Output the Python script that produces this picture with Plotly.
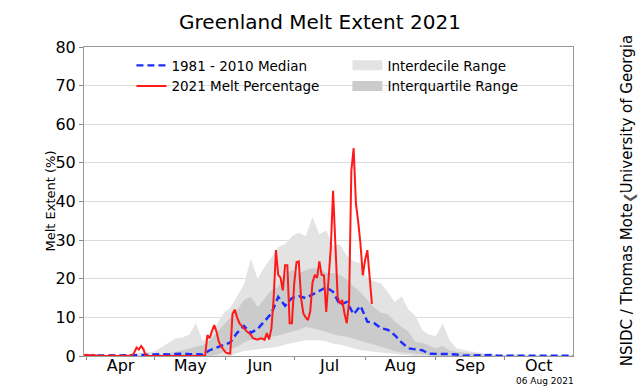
import pandas as pd
import plotly.graph_objects as go

# ---------------- data ----------------
# 1981-2010 climatology, sampled every 3 days starting 1 April
clim_start = "2021-04-01"
median_1981_2010 = [
    0.1, 0.1, 0.1, 0.1, 0.1, 0.2, 0.2, 0.2, 0.3, 0.3,
    0.4, 0.5, 0.4, 0.5, 0.6, 0.5, 0.5, 0.4, 1.5, 2.2,
    2.8, 3.5, 6.0, 7.8, 6.0, 7.0, 9.0, 11.0, 15.3, 13.0,
    15.0, 15.5, 15.0, 16.0, 16.8, 17.8, 16.6, 13.2, 14.0, 10.8,
    13.0, 8.9, 8.5, 7.2, 6.8, 5.4, 3.5, 2.0, 1.7, 1.5,
    0.6, 0.5, 0.5, 0.5, 0.4, 0.1, 0.1, 0.1, 0.2, 0.3,
    0.1, 0.1, 0.1, 0.1, 0.1, 0.1, 0.1, 0.1, 0.1, 0.1, 0.1, 0.1,
]
p90 = [
    0.0, 0.0, 0.0, 0.1, 0.2, 0.2, 0.3, 0.5, 0.8, 1.0,
    1.2, 2.3, 3.4, 4.5, 4.8, 5.5, 8.5, 3.8, 5.5, 8.0,
    11.0, 12.5, 15.5, 18.5, 25.2, 20.0, 23.0, 25.5, 28.2, 29.0,
    31.0, 32.0, 31.0, 36.0, 31.5, 32.5, 28.5, 29.0, 26.0, 24.5,
    24.0, 20.0, 19.5, 18.8, 16.5, 14.0, 15.5, 12.0, 10.4, 6.7,
    5.5, 5.2, 8.5, 4.0, 2.0, 1.5, 1.2, 1.0, 0.8, 0.6,
    0.3, 0.3, 0.5, 0.3, 0.2, 0.2, 0.2, 0.2, 0.2, 0.1, 0.1, 0.1,
]
p75 = [
    0.0, 0.0, 0.0, 0.0, 0.0, 0.0, 0.1, 0.1, 0.1, 0.1,
    0.2, 0.4, 0.8, 1.0, 1.5, 2.0, 2.4, 2.8, 4.0, 6.0,
    8.0, 10.1, 11.9, 14.5, 15.3, 12.7, 15.0, 17.0, 18.0, 21.0,
    22.2, 21.4, 22.2, 22.8, 22.5, 21.5, 21.5, 21.0, 19.8, 18.0,
    16.5, 14.5, 12.5, 11.2, 10.8, 9.0, 7.5, 6.3, 3.7, 3.4,
    2.8, 2.0, 2.6, 1.4, 1.1, 0.9, 0.8, 0.5, 0.3, 0.2,
    0.1, 0.1, 0.1, 0.1, 0.1, 0.1, 0.1, 0.1, 0.1, 0.1, 0.1, 0.1,
]
p25 = [
    0.0, 0.0, 0.0, 0.0, 0.0, 0.0, 0.0, 0.0, 0.0, 0.0,
    0.0, 0.0, 0.0, 0.0, 0.0, 0.0, 0.0, 0.0, 0.0, 0.3,
    1.1, 1.7, 2.4, 3.5, 4.2, 4.4, 4.7, 5.0, 5.3, 5.8,
    6.3, 6.8, 7.5, 7.2, 6.7, 6.2, 5.8, 5.2, 5.0, 4.5,
    4.0, 3.5, 3.0, 2.4, 1.8, 1.2, 1.0, 0.8, 0.5, 0.3,
    0.2, 0.0, 0.0, 0.0, 0.0, 0.0, 0.0, 0.0, 0.0, 0.0,
    0.0, 0.0, 0.0, 0.0, 0.0, 0.0, 0.0, 0.0, 0.0, 0.0, 0.0, 0.0,
]
p10 = [
    0.0, 0.0, 0.0, 0.0, 0.0, 0.0, 0.0, 0.0, 0.0, 0.0,
    0.0, 0.0, 0.0, 0.0, 0.0, 0.0, 0.0, 0.0, 0.0, 0.0,
    0.0, 0.0, 0.8, 1.3, 1.5, 1.7, 2.0, 2.2, 2.4, 3.0,
    3.4, 3.8, 4.1, 4.1, 4.1, 3.8, 3.2, 3.0, 2.4, 2.0,
    1.5, 1.3, 1.1, 0.9, 0.6, 0.4, 0.3, 0.2, 0.0, 0.0,
    0.0, 0.0, 0.0, 0.0, 0.0, 0.0, 0.0, 0.0, 0.0, 0.0,
    0.0, 0.0, 0.0, 0.0, 0.0, 0.0, 0.0, 0.0, 0.0, 0.0, 0.0, 0.0,
]

# 2021 daily melt percentage starting 31 March
melt_start = "2021-03-31"
melt_2021 = [
    0.2, 0.3, 0.2, 0.0, 0.3, 0.1, 0.0, 0.0, 0.1, 0.0, 0.0, 0.0, 0.2, 0.0,
    0.0, 0.0, 0.0, 0.0, 0.0, 0.0, 0.0,
    0.1, 0.9, 2.2, 1.7, 2.6, 1.8, 0.1,
    0.0, 0.0, 0.0, 0.0, 0.0, 0.0, 0.0, 0.0, 0.0, 0.0, 0.0, 0.0, 0.0,
    0.0, 0.0, 0.0, 0.0, 0.0, 0.0, 0.0, 0.0, 0.0, 0.0, 0.0, 0.0, 0.0,
    5.4, 4.6, 6.5, 8.0, 6.3, 3.7, 2.5, 1.8, 0.9, 0.7,
    0.6, 11.0, 12.0, 10.0, 8.5, 7.8, 7.0, 6.5, 6.0, 5.5,
    4.6, 4.4, 4.2, 4.5, 4.5, 4.2, 5.9, 4.3, 7.0, 15.0,
    27.4, 21.0, 20.3, 17.0, 23.5, 23.5, 8.5, 8.5, 18.8, 24.3,
    24.5, 15.0, 11.0, 10.0, 9.3, 11.5, 19.0, 21.0, 20.2, 24.5,
    21.0, 20.9, 11.4, 19.6, 28.0, 42.8, 30.0, 15.3, 13.5, 14.5,
    11.0, 8.5, 14.0, 48.0, 53.8, 39.5, 34.7, 29.0, 20.9, 24.8,
    27.4, 21.0, 13.5,
]

y_ticks = [0, 10, 20, 30, 40, 50, 60, 70, 80]
x_range = ["2021-03-31", "2021-10-31"]

# ---------------- styling ----------------
FONT = "DejaVu Sans"
LIGHT = "#e3e3e3"
DARK = "#cbcbcb"
RED = "#ff1a1a"
BLUE = "#1a2cff"

clim_dates = pd.date_range(clim_start, periods=len(median_1981_2010), freq="3D")
melt_dates = pd.date_range(melt_start, periods=len(melt_2021), freq="D")

fig = go.Figure()

# interdecile band
fig.add_trace(go.Scatter(x=clim_dates, y=p10, mode="lines", line=dict(width=0),
                         showlegend=False, hoverinfo="skip"))
fig.add_trace(go.Scatter(x=clim_dates, y=p90, mode="lines", line=dict(width=0),
                         fill="tonexty", fillcolor=LIGHT, showlegend=False,
                         legendgroup="idr", hoverinfo="skip"))
# interquartile band
fig.add_trace(go.Scatter(x=clim_dates, y=p25, mode="lines", line=dict(width=0),
                         showlegend=False, hoverinfo="skip"))
fig.add_trace(go.Scatter(x=clim_dates, y=p75, mode="lines", line=dict(width=0),
                         fill="tonexty", fillcolor=DARK, showlegend=False,
                         legendgroup="iqr", hoverinfo="skip"))
# median
fig.add_trace(go.Scatter(x=clim_dates, y=median_1981_2010, mode="lines",
                         name="1981 - 2010 Median", legendrank=1,
                         line=dict(color=BLUE, width=2.4, dash="7px,4px")))
# 2021
fig.add_trace(go.Scatter(x=melt_dates, y=melt_2021, mode="lines",
                         name="2021 Melt Percentage", legendrank=3,
                         line=dict(color=RED, width=2)))
# legend swatches for the bands
fig.add_trace(go.Scatter(x=[None], y=[None], mode="lines", name="Interdecile Range",
                         legendgroup="idr", legendrank=2,
                         line=dict(color=LIGHT, width=12)))
fig.add_trace(go.Scatter(x=[None], y=[None], mode="lines", name="Interquartile Range",
                         legendgroup="iqr", legendrank=4,
                         line=dict(color=DARK, width=12)))

fig.update_layout(
    width=640, height=386,
    margin=dict(l=84, r=67, t=47, b=30),
    paper_bgcolor="white", plot_bgcolor="white",
    font=dict(family=FONT, color="black"),
    title=dict(text="Greenland Melt Extent 2021", x=0.5, xref="container",
               y=0.943, yanchor="middle", font=dict(size=20, family=FONT)),
    showlegend=True,
    legend=dict(orientation="h", x=0.097, xanchor="left", y=0.99, yanchor="top",
                entrywidth=171, entrywidthmode="pixels",
                bgcolor="rgba(0,0,0,0)", font=dict(size=13.5, family=FONT),
                tracegroupgap=0, itemwidth=30),
    xaxis=dict(type="date", range=x_range, dtick="M1", tick0="2021-04-01",
               ticklabelmode="period", tickformat="%b", showgrid=False,
               ticks="outside", ticklen=3, tickcolor="#888", automargin=False,
               ticklabelstandoff=-8,
               showline=True, linecolor="#999", linewidth=1, mirror=True,
               tickfont=dict(size=16, family=FONT)),
    yaxis=dict(range=[0, 80], tickvals=y_ticks, showgrid=True, gridcolor="#dcdcdc",
               zeroline=False, ticks="outside", ticklen=4, tickcolor="#888",
               automargin=False,
               showline=True, linecolor="#999", linewidth=1, mirror=True,
               tickfont=dict(size=16, family=FONT)),
    annotations=[
        dict(text="Melt Extent (%)", xref="paper", yref="paper", x=-0.0695, y=0.5,
             xanchor="center", yanchor="middle",
             textangle=-90, showarrow=False, font=dict(size=13, family=FONT)),
        dict(text="NSIDC / Thomas Mote, University of Georgia", xref="paper", yref="paper",
             x=1.111, y=0.502, xanchor="center", yanchor="middle",
             textangle=-90, showarrow=False, font=dict(size=15, family=FONT)),
        dict(text="❯", xref="paper", yref="paper", x=1.117, y=0.513,
             xanchor="center", yanchor="middle", textangle=90, showarrow=False,
             bgcolor="white", borderpad=0, font=dict(size=13, color="#555", family=FONT)),
        dict(text="06 Aug 2021", xref="paper", yref="paper", x=0.943, y=-0.081,
             xanchor="center", yanchor="middle",
             showarrow=False, font=dict(size=9, family=FONT)),
    ],
)

fig.write_html("out.html", config={"displayModeBar": False},
               post_script="document.body.style.margin='0';")
